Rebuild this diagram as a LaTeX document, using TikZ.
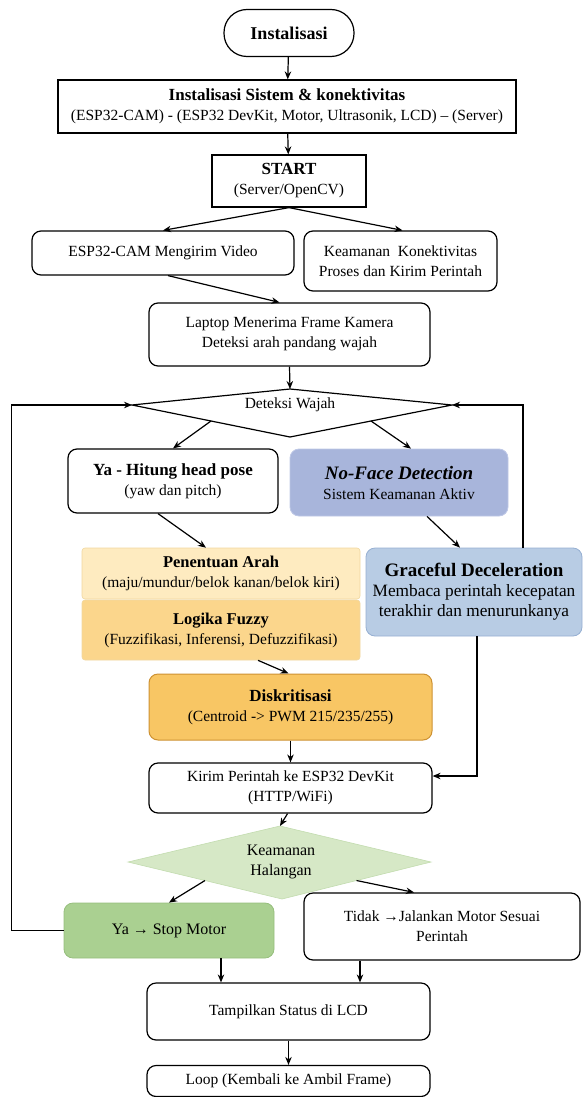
\documentclass[tikz,border=0pt]{standalone}
\usepackage{fontspec}
\setmainfont{Liberation Serif}
\usetikzlibrary{arrows.meta,calc}
\definecolor{nfblue}{RGB}{168,181,219}
\definecolor{nfborder}{RGB}{190,200,230}
\definecolor{grblue}{RGB}{184,204,228}
\definecolor{grborder}{RGB}{150,175,210}
\definecolor{penyel}{RGB}{254,235,192}
\definecolor{logyel}{RGB}{251,214,140}
\definecolor{yelborder}{RGB}{240,215,160}
\definecolor{diskor}{RGB}{248,198,100}
\definecolor{diskborder}{RGB}{205,145,50}
\definecolor{halgreen}{RGB}{214,232,198}
\definecolor{halborder}{RGB}{195,220,175}
\definecolor{stopgreen}{RGB}{170,208,145}
\definecolor{stopborder}{RGB}{150,190,125}
\newcommand{\ttl}[1]{{\fontsize{17}{20}\selectfont\bfseries #1}}
\tikzset{
  x=1pt, y=-1pt,
  every node/.style={font=\fontsize{15.5}{20}\selectfont, align=center, inner sep=0pt},
  sqbox/.style={draw, line width=1.2pt},
  rbox/.style={draw, line width=1.2pt, rounded corners=9pt},
  cbox/.style={rounded corners=9pt, line width=0.8pt},
  arr/.style={-{Stealth[length=8pt,width=6.5pt]}, line width=1.2pt},
  line/.style={line width=1.2pt},
}
\begin{document}
\begin{tikzpicture}
\useasboundingbox (0,0) rectangle (582,1097);

\node[draw, line width=1.2pt, rounded corners=23pt, minimum width=130pt, minimum height=47pt] (init) at (289,33) {{\fontsize{18}{20}\selectfont\bfseries Instalisasi}};
\node[sqbox, minimum width=458pt, minimum height=53pt] (sys) at (287,106.5) {\ttl{Instalisasi Sistem \& konektivitas}\\(ESP32-CAM) - (ESP32 DevKit, Motor, Ultrasonik, LCD) – (Server)};
\node[sqbox, minimum width=154pt, minimum height=52pt] (start) at (289,181) {\ttl{START}\\(Server/OpenCV)};
\node[rbox, minimum width=262pt, minimum height=44pt] (cam) at (163,253) {ESP32-CAM Mengirim Video};
\node[rbox, minimum width=193pt, minimum height=60pt] (sec) at (400.5,261) {Keamanan\ \ Konektivitas\\Proses dan Kirim Perintah};
\node[rbox, minimum width=281pt, minimum height=63pt] (lap) at (289.5,334.5) {Laptop Menerima Frame Kamera\\Deteksi arah pandang wajah};

% diamond Deteksi Wajah
\coordinate (dt) at (290,389);
\coordinate (dl) at (132,405);
\coordinate (db) at (290,437);
\coordinate (dr) at (452,405);
\draw[line] (dt) -- (dr) -- (db) -- (dl) -- cycle;
\node (det) at (290,405) {Deteksi Wajah};

\node[rbox, minimum width=210pt, minimum height=64pt] (ya) at (173,481) {\ttl{Ya - Hitung head pose}\\(yaw dan pitch)};
\node[cbox, fill=nfblue, draw=nfborder, minimum width=218pt, minimum height=67pt] (nf) at (399,482.5) {{\fontsize{19}{21}\selectfont\bfseries\itshape No-Face Detection}\\Sistem Keamanan Aktiv};

\node[fill=penyel, draw=yelborder, line width=0.6pt, rounded corners=3pt, minimum width=278pt, minimum height=51pt] (pen) at (221,573.5) {{\fontsize{16.5}{20}\selectfont\bfseries Penentuan Arah}\\(maju/mundur/belok kanan/belok kiri)};
\node[fill=logyel, draw=yelborder, line width=0.6pt, rounded corners=3pt, minimum width=278pt, minimum height=60pt] (log) at (221,630) {{\fontsize{16.5}{20}\selectfont\bfseries Logika Fuzzy}\\(Fuzzifikasi, Inferensi, Defuzzifikasi)};
\node[cbox, fill=grblue, draw=grborder, minimum width=216pt, minimum height=88pt] (gr) at (474,592) {{\fontsize{19}{21}\selectfont\bfseries Graceful Deceleration}\\{\fontsize{17.3}{20.5}\selectfont Membaca perintah kecepatan}\\{\fontsize{17.3}{20.5}\selectfont terakhir dan menurunkanya}};

\node[cbox, fill=diskor, draw=diskborder, line width=1pt, minimum width=283pt, minimum height=66pt] (disk) at (290.5,707) {\ttl{Diskritisasi}\\(Centroid -> PWM 215/235/255)};
\node[rbox, minimum width=283pt, minimum height=50pt] (kirim) at (290.5,788) {Kirim Perintah ke ESP32 DevKit\\(HTTP/WiFi)};

% diamond Keamanan Halangan
\coordinate (ht) at (280,826);
\coordinate (hl) at (128,862);
\coordinate (hb) at (282,899);
\coordinate (hr) at (431,862);
\draw[fill=halgreen, draw=halborder, line width=0.6pt] (ht) -- (hr) -- (hb) -- (hl) -- cycle;
\node (hal) at (281,862) {{\fontsize{16}{19}\selectfont Keamanan}\\{\fontsize{16}{19}\selectfont Halangan}};

\node[cbox, fill=stopgreen, draw=stopborder, minimum width=210pt, minimum height=55pt] (stop) at (169,930.5) {{\fontsize{16}{20}\selectfont Ya → Stop Motor}};
\node[rbox, minimum width=276pt, minimum height=67pt] (tidak) at (442,926.5) {Tidak →Jalankan Motor Sesuai\\Perintah};
\node[rbox, minimum width=283pt, minimum height=57pt] (lcd) at (288.5,1011.5) {Tampilkan Status di LCD};
\node[rbox, minimum width=283pt, minimum height=31pt] (loop) at (288.5,1081) {Loop (Kembali ke Ambil Frame)};

% connectors
\draw[arr] (init) -- (sys);
\draw[arr] (sys) -- (start);
\draw[arr] (start.south) -- (cam.north);
\draw[arr] (start.south) -- ($(sec.north)+(2,0)$);
\draw[arr] ($(cam.south)+(5,0)$) -- ($(lap.north)+(-10,0)$);
\draw[arr] (lap.south) -- (dt);
\draw[arr] ($(dl)!0.5!(db)$) -- (ya.north);
\draw[arr] ($(dr)!0.5!(db)$) -- ($(nf.north)+(12,0)$);
\draw[arr] ($(ya.south)+(-15,0)$) -- ($(pen.north)+(-15,0)$);
\draw[arr] ($(nf.south)+(28,0)$) -- ($(gr.north)+(-14,0)$);
\draw[arr] ($(log.south)+(37,0)$) -- ($(disk.north)+(-2,0)$);
\draw[arr] (disk.south) -- (kirim.north);
\draw[arr] ($(kirim.south)+(-3,0)$) -- (ht);
\draw[arr] ($(hl)!0.5!(hb)$) -- (stop.north);
\draw[arr] ($(hr)!0.5!(hb)$) -- ($(tidak.north)+(-28,0)$);
\draw[arr] ($(stop.south)+(52,0)$) -- ($(lcd.north)+(-67.5,0)$);
\draw[arr] ($(tidak.south)+(-82,0)$) -- ($(lcd.north)+(71.5,0)$);
\draw[arr] (lcd) -- (loop);
% feedback loops
\coordinate (rl) at (523,548);
\draw[arr] (rl) |- (dr);
\draw[arr] (stop.west) -- ++(-52,0) |- (dl);
\draw[arr] ($(gr.south)+(3,0)$) |- ($(kirim.east)+(0,-12)$);
\end{tikzpicture}
\end{document}
